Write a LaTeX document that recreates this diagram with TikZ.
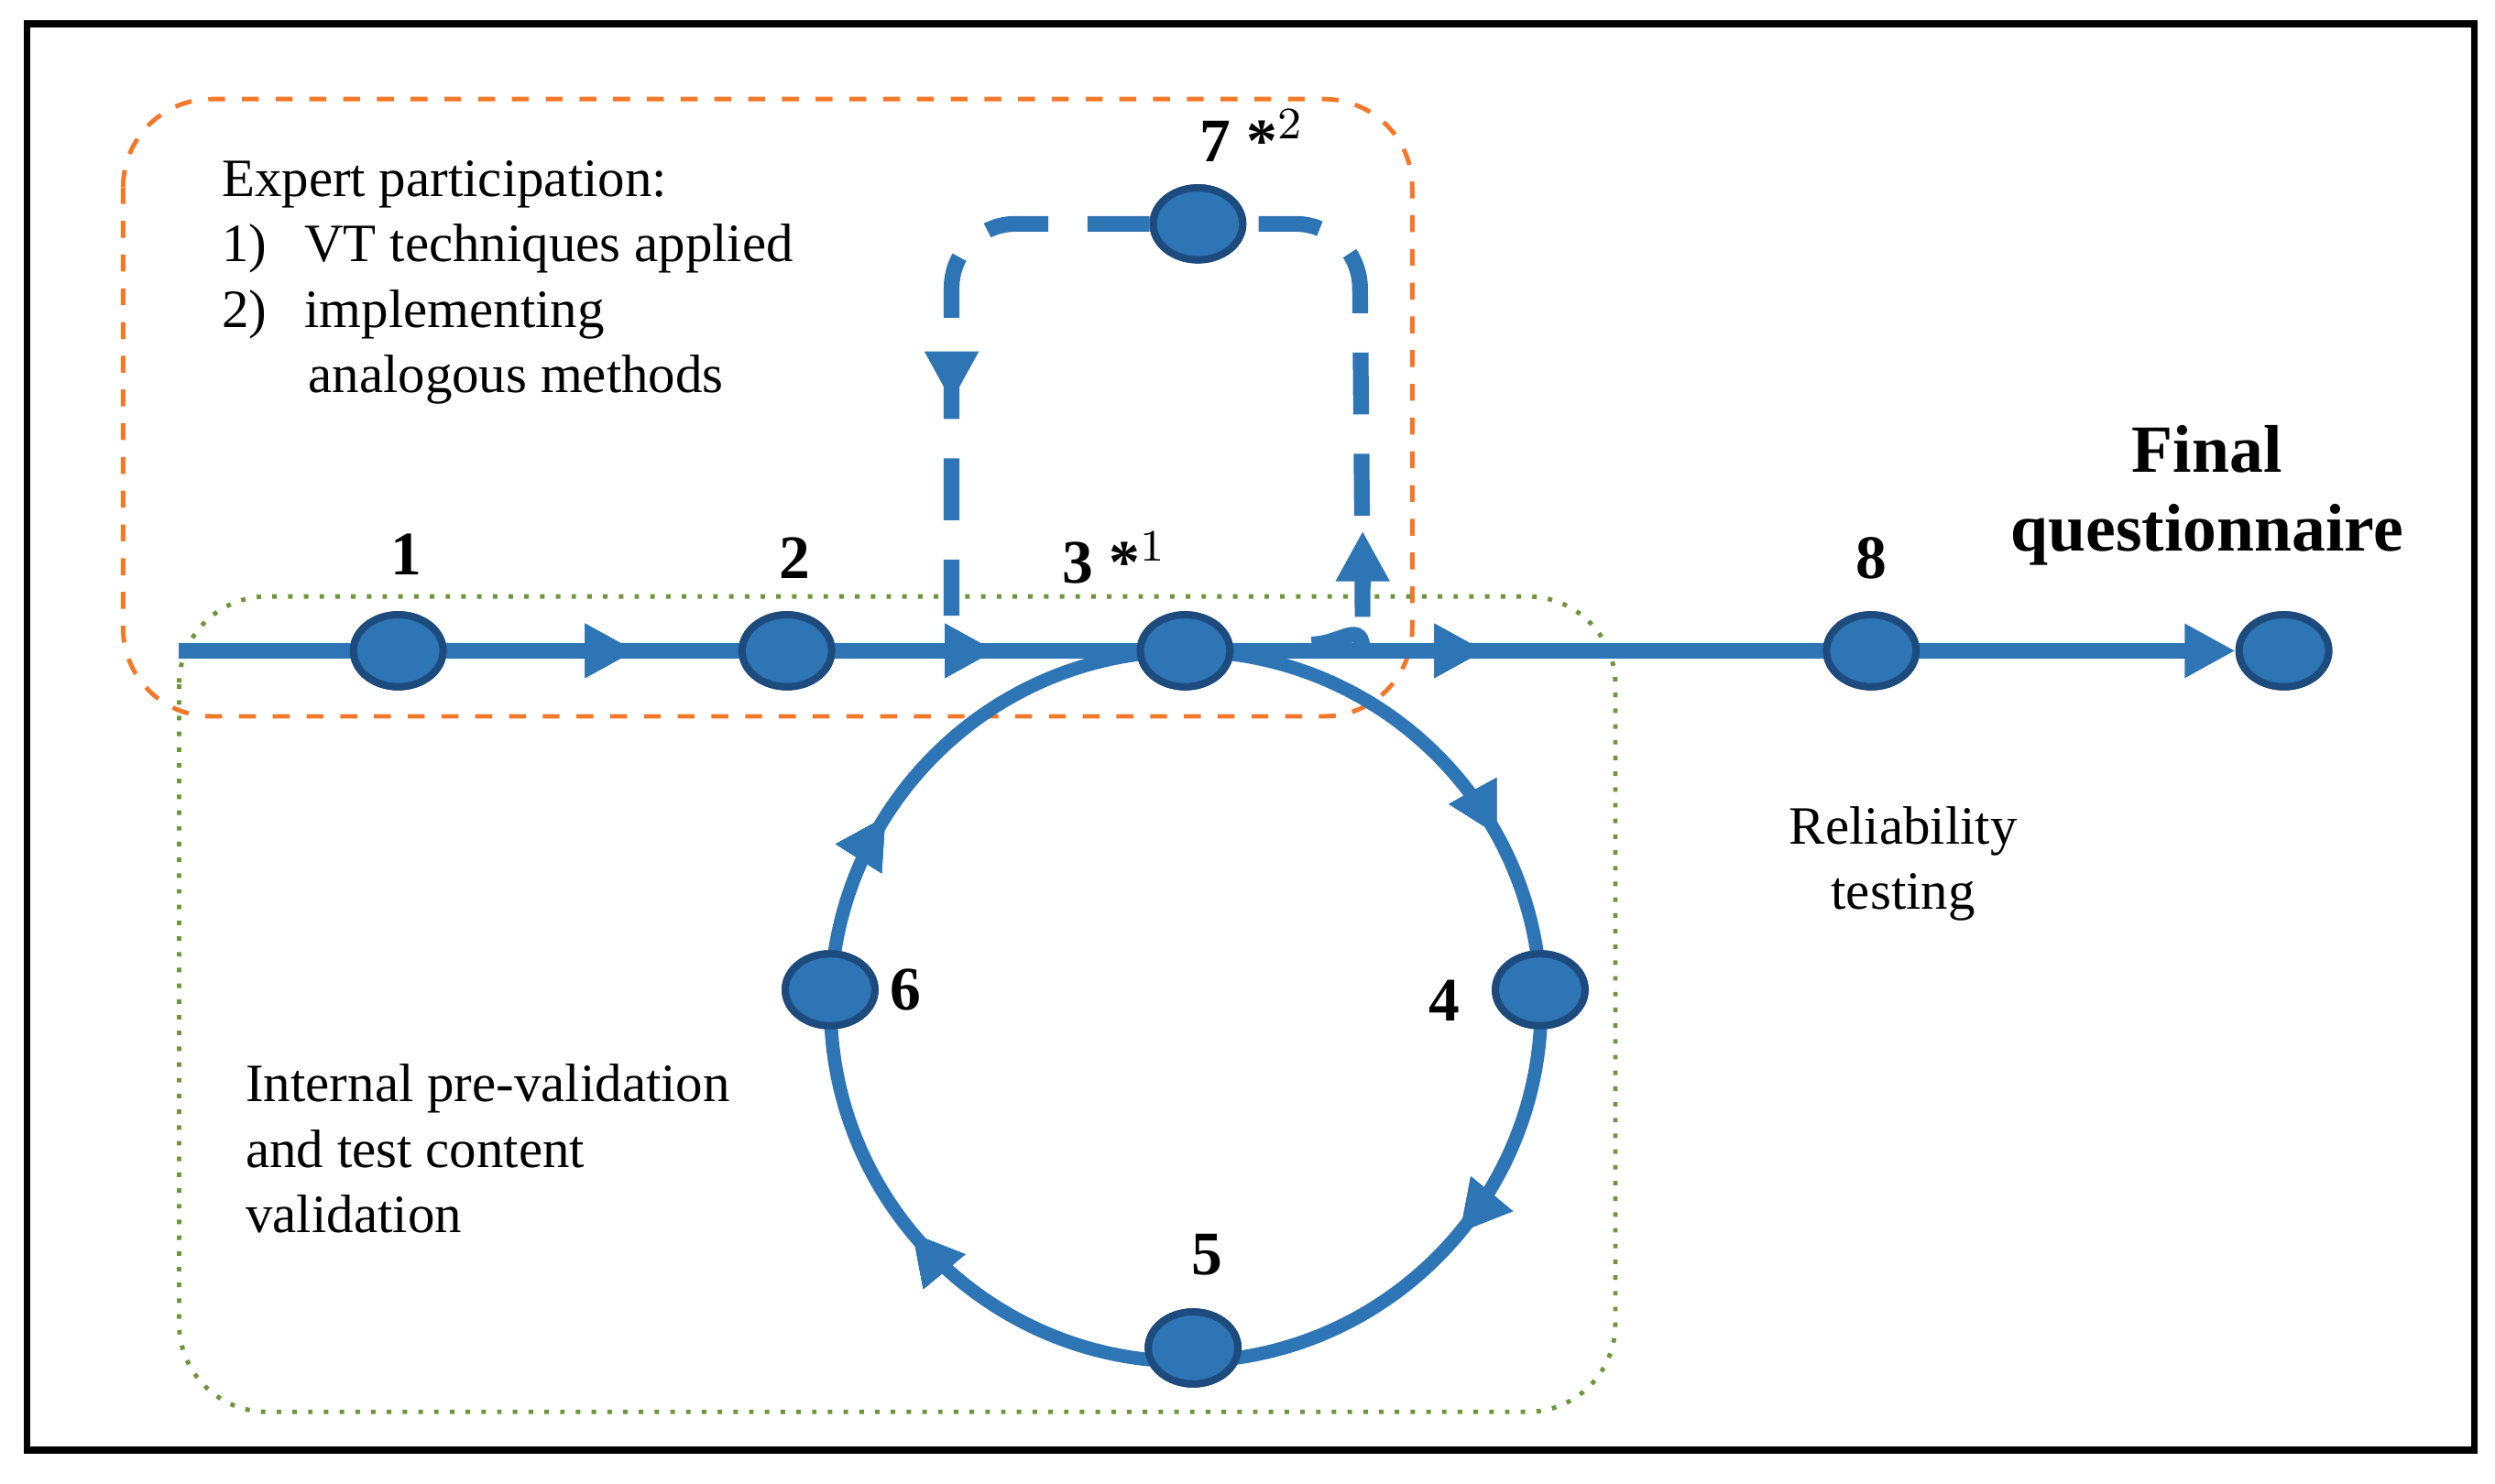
\documentclass[tikz,border=0pt]{standalone}
\usepackage{fontspec}
\setmainfont{Liberation Serif}
\usetikzlibrary{shapes.geometric,arrows.meta,decorations.markings}
\definecolor{bl}{RGB}{46,117,182}
\definecolor{dbl}{RGB}{30,75,125}
\definecolor{org}{RGB}{245,120,40}
\definecolor{grn}{RGB}{110,150,60}
\begin{document}
\begin{tikzpicture}[x=0.01cm,y=-0.01cm,
  nd/.style={ellipse,minimum width=0.56cm,minimum height=0.45cm,fill=bl,draw=dbl,line width=1.3pt,inner sep=0pt},
  lbl/.style={font=\bfseries\fontsize{11}{12}\selectfont},
  txt/.style={font=\fontsize{9.6}{11.6}\selectfont,align=left,anchor=north west,inner sep=0pt},
  tip/.style={decoration={markings,mark=at position #1 with {\arrow{Triangle[length=9pt,width=9pt]}}},postaction=decorate},
  flow/.style={draw=bl,line width=2.8pt},
  dsh/.style={flow,dash pattern=on 11pt off 7pt,rounded corners=0.4cm}]
\useasboundingbox (0,0) rectangle (1560,928);
\draw[line width=1.2pt] (17,15) rectangle (1547,907);
\draw[org,dashed,line width=0.8pt,rounded corners=0.55cm] (77,62) rectangle (883,448);
\draw[grn,dotted,line width=0.8pt,rounded corners=0.55cm] (112,373) rectangle (1010,883);
% nodes
\node[nd] (n1) at (249,407) {};
\node[nd] (n2) at (492,407) {};
\node[nd] (n3) at (741,407) {};
\node[nd] (n8) at (1170,407) {};
\node[nd] (nf) at (1428,407) {};
\node[nd] (n7) at (749,140) {};
\node[nd] (n6) at (519,619) {};
\node[nd] (n4) at (963,619) {};
\node[nd] (n5) at (746,843) {};
\coordinate (s) at (112,407);
\coordinate (h) at (820,403);
\coordinate (ua) at (852,368);
\coordinate (ub) at (852,332);
\coordinate (lc) at (595,385);
% main line
\draw[flow,tip=0.222,tip=0.397,tip=0.635,-{Triangle[length=9pt,width=9pt]}] (s) -- (nf.west);
% circle
\draw[flow,line width=2.4pt,tip=0.17,tip=0.36,tip=0.64,tip=0.84] (7.41cm,-4.07cm) arc[start angle=90,end angle=-270,radius=2.22cm];
% dashed loop
\draw[dsh] (h) to[out=0,in=-90] (ua) -- (850,140) -- (n7.east);
\draw[flow,-{Triangle[length=9pt,width=9pt]}] (ua) -- (ub);
\draw[dsh,tip=0.62] (n7.west) -- (595,140) -- (lc);
% redraw nodes on top
\foreach \n in {n1,n2,n3,n8,nf,n7,n6,n4,n5}{\node[nd] at (\n) {};}
% labels
\node[lbl] at (254,347) {1};
\node[lbl] at (497,349) {2};
\node[lbl] at (697,349) {3 *$^{1}$};
\node[lbl] at (783,85) {7 *$^{2}$};
\node[lbl] at (1170,349) {8};
\node[lbl] at (566,619) {6};
\node[lbl] at (903,626) {4};
\node[lbl] at (755,785) {5};
\node[font=\bfseries\fontsize{12}{14}\selectfont,align=center] at (1380,310) {Final\\questionnaire};
\node[font=\fontsize{9.6}{11.6}\selectfont,align=center] at (1190,540) {Reliability\\testing};
\node[txt] at (138,100) {Expert participation:\\1)\hspace{0.7em}VT techniques applied\\2)\hspace{0.7em}implementing\\\hspace{1.6em}analogous methods};
\node[txt] at (153,665) {Internal pre-validation\\and test content\\validation};
\end{tikzpicture}
\end{document}
